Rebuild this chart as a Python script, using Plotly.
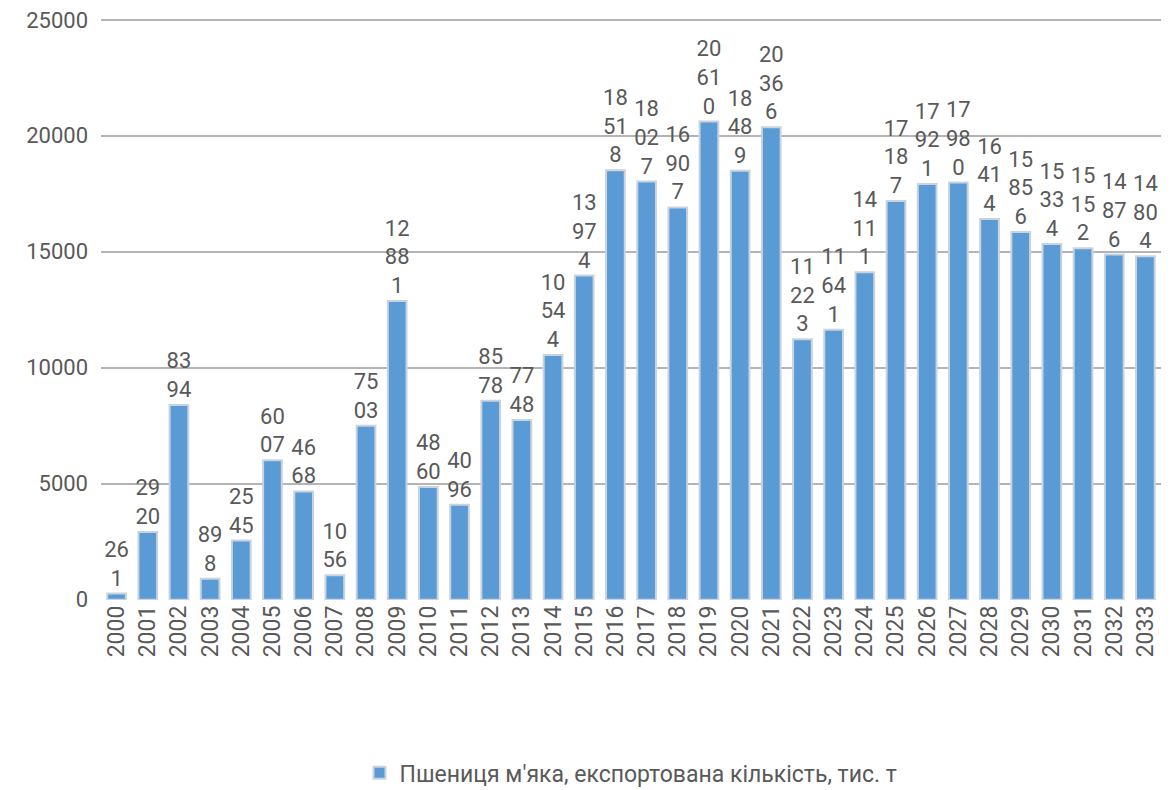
import plotly.graph_objects as go

years = [str(y) for y in range(2000, 2034)]
values = [261, 2920, 8394, 898, 2545, 6007, 4668, 1056, 7503, 12881,
          4860, 4096, 8578, 7748, 10544, 13974, 18518, 18027, 16907, 20610,
          18489, 20366, 11223, 11641, 14111, 17187, 17921, 17980, 16414, 15856,
          15334, 15152, 14876, 14804]
series_name = "Пшениця м'яка, експортована кількість, тис. т"
y_ticks = [0, 5000, 10000, 15000, 20000, 25000]
y_ticktext = ["0", "5000", "10000", "15000", "20000", "25000"]


def wrap(v):
    s = str(v)
    return "<br>".join(s[i:i + 2] for i in range(0, len(s), 2))


labels = [wrap(v) for v in values]
font_family = "Roboto, Liberation Sans, Arial, sans-serif"

fig = go.Figure()
fig.add_trace(go.Bar(
    x=years, y=values, name=series_name,
    text=labels, textposition="outside", textangle=0,
    constraintext="none", cliponaxis=False,
    textfont=dict(size=22, color="#595959", family=font_family),
    marker=dict(color="#5B9BD5", line=dict(color="#C8D3DE", width=2)),
))

fig.update_layout(
    width=1171, height=790,
    margin=dict(l=93, r=18, t=6, b=198, autoexpand=False),
    paper_bgcolor="white", plot_bgcolor="white",
    bargap=0.4,
    font=dict(family=font_family, color="#595959", size=23),
    showlegend=True,
    legend=dict(orientation="h", x=0.5, xanchor="center", y=-0.295,
                yanchor="middle", font=dict(size=23, color="#595959")),
)
fig.update_xaxes(type="category", tickangle=-90, tickfont=dict(size=23),
                 showgrid=False, showline=False, ticks="", automargin=False)
fig.update_yaxes(range=[-15, 25250], tickvals=y_ticks, ticktext=y_ticktext,
                 showgrid=True, gridcolor="#B4B4B4", gridwidth=2,
                 zeroline=False, tickfont=dict(size=22), ticks="",
                 showline=False, ticklabelstandoff=12, automargin=False,
                 ticklabeloverflow="allow")

fig.write_html("out.html")
